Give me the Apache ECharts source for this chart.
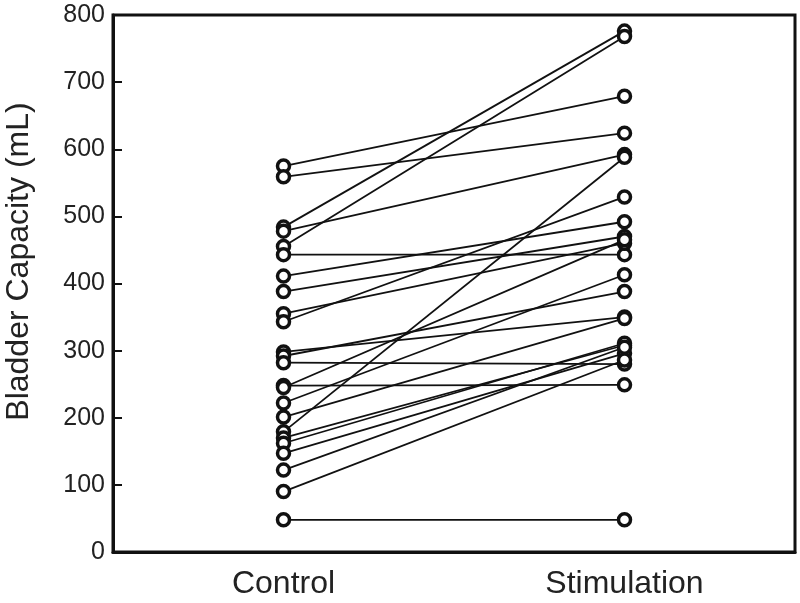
<!DOCTYPE html>
<html>
<head>
<meta charset="utf-8">
<script src="https://cdn.jsdelivr.net/npm/echarts@6/dist/echarts.min.js"></script>
<style>html,body{margin:0;padding:0;background:#fff;}#c{width:800px;height:603px;}</style>
</head>
<body>
<div id="c"></div>
<script>
const categories = ['Control', 'Stimulation'];
const controlValues = [575, 559, 484, 478, 455, 443, 411, 388, 355, 343, 298, 292, 282, 248, 245, 222, 201, 179, 170, 162, 147, 122, 90, 48];
const stimulationValues = [679, 624, 776, 592, 768, 443, 492, 470, 460, 529, 350, 388, 280, 249, 465, 413, 348, 588, 308, 311, 296, 305, 286, 48];
const yTicks = [0, 100, 200, 300, 400, 500, 600, 700, 800];
const yAxisName = 'Bladder Capacity (mL)';

const font = 'Liberation Sans, Arial, Helvetica, sans-serif';
const series = controlValues.map((c, i) => ({
  type: 'line',
  data: [c, stimulationValues[i]],
  symbol: 'circle',
  symbolSize: 12,
  lineStyle: { color: '#111', width: 1.8 },
  itemStyle: { color: '#fff', borderColor: '#111', borderWidth: 3.5 },
  silent: true,
  animation: false,
  z: 2
}));

const chart = echarts.init(document.getElementById('c'));
chart.setOption({
  backgroundColor: '#fff',
  animation: false,
  grid: { left: 113, right: 5, top: 15, bottom: 51, containLabel: false, outerBoundsMode: 'none', show: true, borderColor: '#111', borderWidth: 3, backgroundColor: 'transparent' },
  xAxis: {
    type: 'category',
    data: categories,
    boundaryGap: true,
    axisLine: { lineStyle: { color: '#111', width: 3 } },
    axisTick: { inside: true, alignWithLabel: true, length: 9, lineStyle: { color: '#111', width: 2 } },
    axisLabel: { color: '#222', fontSize: 32, fontFamily: font, margin: 16 },
    splitLine: { show: false }
  },
  yAxis: {
    type: 'value',
    min: yTicks[0],
    max: yTicks[yTicks.length - 1],
    interval: 100,
    name: yAxisName,
    nameLocation: 'middle',
    nameGap: 78,
    nameTextStyle: { color: '#222', fontSize: 32, fontFamily: font, padding: [0, 0, 0, 44] },
    axisLine: { show: true, lineStyle: { color: '#111', width: 3 } },
    axisTick: { show: true, inside: true, length: 9, lineStyle: { color: '#111', width: 2 } },
    axisLabel: { color: '#222', fontSize: 25, fontFamily: font, margin: 8 },
    splitLine: { show: false }
  },
  series: series
});
</script>
</body>
</html>
